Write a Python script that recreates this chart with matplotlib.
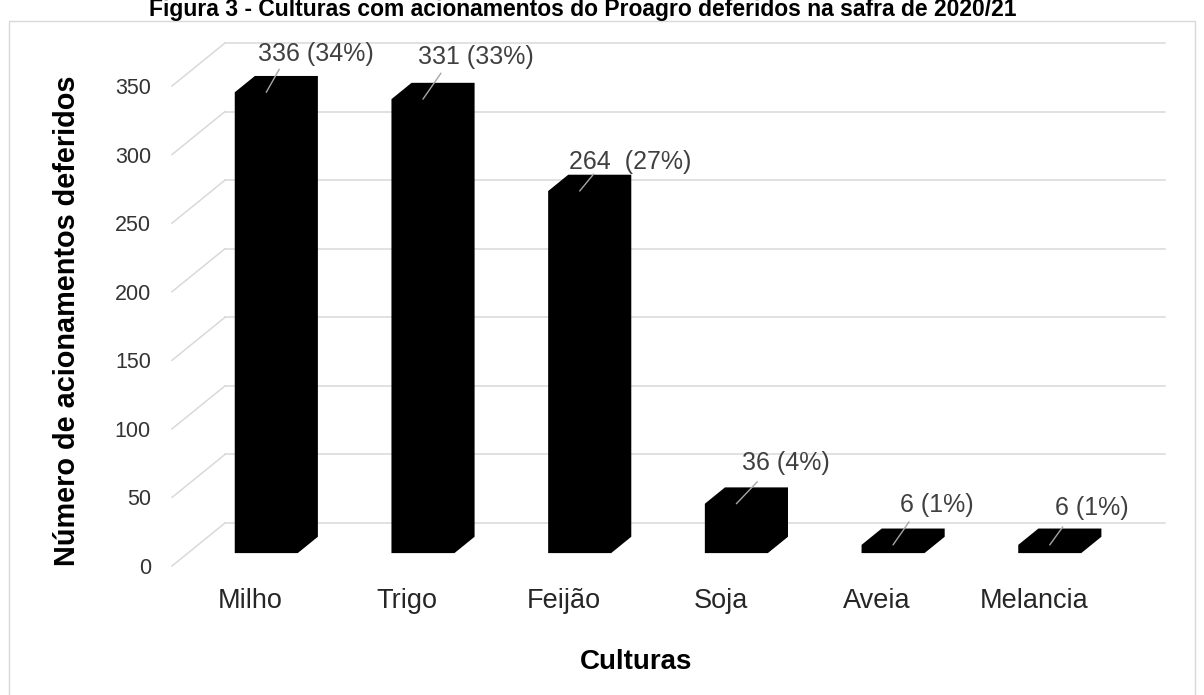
import matplotlib
matplotlib.use('Agg')
import matplotlib.pyplot as plt
from matplotlib.patches import Polygon, Rectangle

plt.rcParams['font.family'] = ['Liberation Sans', 'DejaVu Sans']

culturas = ['Milho', 'Trigo', 'Feijão', 'Soja', 'Aveia', 'Melancia']
acionamentos = [336, 331, 264, 36, 6, 6]
percentuais = [34, 33, 27, 4, 1, 1]
separadores = [' ', ' ', '  ', ' ', ' ', ' ']
yticks = [0, 50, 100, 150, 200, 250, 300, 350]

titulo = 'Figura 3 - Culturas com acionamentos do Proagro deferidos na safra de 2020/21'

# figure size in pixels and the plot box (front-left corner -> back-right)
W, H = 1204, 695
LEFT, RIGHT, BOTTOM, TOP = 172, 1165, 566, 43
PX_CAT = 156.7            # pixels per category
PX_UNIT = 480 / 350       # pixels per value unit
DEPTH_PX = (53, 43)       # floor depth, pixels
PT = 0.72                 # points per pixel at dpi 100

fig = plt.figure(figsize=(W / 100, H / 100), dpi=100)
ax = fig.add_axes([LEFT / W, 1 - BOTTOM / H, (RIGHT - LEFT) / W, (BOTTOM - TOP) / H])
ax.patch.set_visible(False)
ax.set_xlim(-0.5, -0.5 + (RIGHT - LEFT) / PX_CAT)
ax.set_ylim(0, (BOTTOM - TOP) / PX_UNIT)

DX = DEPTH_PX[0] / PX_CAT
DY = DEPTH_PX[1] / PX_UNIT


def shift(d):
    return d * DX, d * DY


# gridlines: diagonal on the left wall + back wall line
grid_c = '#d9d9d9'
x_end = len(culturas) - 0.5
for t in yticks:
    bx, by = shift(1)
    ax.plot([-0.5, -0.5 + bx], [t, t + by], color=grid_c, lw=1.1, zorder=1, clip_on=False)
    ax.plot([-0.5 + bx, x_end + bx], [t + by, t + by], color=grid_c, lw=1.1, zorder=1, clip_on=False)

# 3d bars
half = 0.201
D_FRONT, D_BACK = 0.30, 0.68
fx, fy = shift(D_FRONT)
bkx, bky = shift(D_BACK)
for i, v in enumerate(acionamentos):
    pts = [
        (i - half + fx, fy),
        (i + half + fx, fy),
        (i + half + bkx, bky),
        (i + half + bkx, v + bky),
        (i - half + bkx, v + bky),
        (i - half + fx, v + fy),
    ]
    ax.add_patch(Polygon(pts, closed=True, facecolor='black', edgecolor='none', zorder=3))

# data labels with leader lines (pixel offsets from front-top centre)
label_off = [(50, 38), (53, 42), (51, 29), (50, 41), (44, 40), (42, 37)]
leader_end = [(13, 23), (18, 26), (14, 17), (21, 22), (16, 23), (13, 18)]
for i, v in enumerate(acionamentos):
    anchor = (i + fx, v + fy)
    lx, ly = leader_end[i]
    ax.annotate('', xy=anchor, xytext=(lx * PT, ly * PT), textcoords='offset points',
                arrowprops=dict(arrowstyle='-', color='#a6a6a6', lw=1.0,
                                shrinkA=0, shrinkB=0), zorder=4)
    tx, ty = label_off[i]
    ax.annotate(f'{v}{separadores[i]}({percentuais[i]}%)', xy=anchor,
                xytext=(tx * PT, ty * PT), textcoords='offset points',
                ha='center', va='center', fontsize=18, color='#404040', zorder=5)

ax.set_yticks(yticks)
ax.set_yticklabels([str(t) for t in yticks], fontsize=15.5, color='#333333')
ax.set_xticks(range(len(culturas)))
ax.set_xticklabels(culturas, fontsize=19.5, color='#262626')
ax.tick_params(axis='y', length=0, pad=21 * PT)
ax.tick_params(axis='x', length=0, pad=16)
for s in ax.spines.values():
    s.set_visible(False)

fig.text(67 / W, 1 - 321 / H, 'Número de acionamentos deferidos', rotation=90,
         ha='center', va='center', fontsize=20.8, fontweight='bold')
fig.text(636 / W, 1 - 662 / H, 'Culturas', ha='center', va='center',
         fontsize=20, fontweight='bold')
fig.text(583 / W, 1 - 16 / H, titulo, ha='center', va='baseline',
         fontsize=16.5, fontweight='bold')

fig.patches.append(Rectangle((9 / W, -0.1), (1195 - 9) / W, 1.1 - 21 / H,
                             transform=fig.transFigure, fill=False,
                             edgecolor='#d9d9d9', lw=1.0))

fig.savefig('out.png', dpi=100)
